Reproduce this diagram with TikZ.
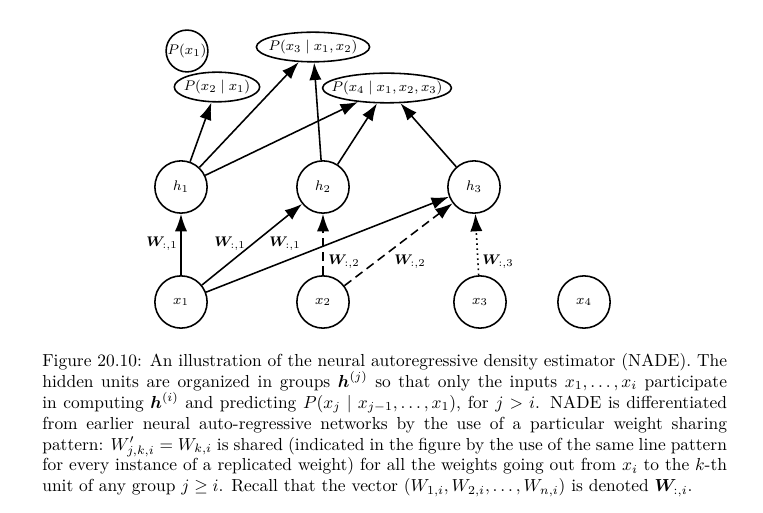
\documentclass[tikz,border=0pt]{standalone}
\usepackage{amsmath}
\usepackage{bm}
\usetikzlibrary{arrows.meta,shapes.geometric}

\begin{document}
\begin{tikzpicture}[
    x=0.574pt, y=-0.574pt,
    unit/.style={draw, circle, line width=0.9pt, minimum size=30pt, inner sep=0pt, font=\footnotesize},
    pcirc/.style={draw, circle, line width=0.9pt, minimum size=24pt, inner sep=0pt, font=\footnotesize},
    prob/.style={draw, ellipse, line width=0.9pt, minimum height=17pt, inner xsep=-10pt, inner ysep=-3pt, font=\footnotesize},
    wlabel/.style={font=\footnotesize, inner sep=0pt},
    arrow/.style={line width=0.9pt, -{Latex[length=10pt, width=7pt]}},
    shared/.style={dash pattern=on 5pt off 3pt}
]
    \useasboundingbox (0,0) rectangle (763,513);

    % conditionals
    \node[pcirc] (p1) at (187,51) {$P(x_1)$};
    \node[prob, minimum width=65pt] (p3) at (313,47) {$P(x_3 \mid x_1, x_2)$};
    \node[prob, minimum width=49pt] (p2) at (217,87) {$P(x_2 \mid x_1)$};
    \node[prob, minimum width=74pt] (p4) at (387,88) {$P(x_4 \mid x_1, x_2, x_3)$};

    % hidden groups
    \node[unit] (h1) at (181,187) {$h_1$};
    \node[unit] (h2) at (323,187) {$h_2$};
    \node[unit] (h3) at (474,187) {$h_3$};

    % inputs
    \node[unit] (x1) at (181,302) {$x_1$};
    \node[unit] (x2) at (323,302) {$x_2$};
    \node[unit] (x3) at (480,302) {$x_3$};
    \node[unit] (x4) at (584,302) {$x_4$};

    \draw[arrow] (x1) -- (h1);
    \draw[arrow] (x1) -- (h2);
    \draw[arrow] (x1) -- (h3);
    \draw[arrow, shared] (x2) -- (h2);
    \draw[arrow, shared] (x2) -- (h3);
    \draw[arrow, dotted] (x3) -- (h3);

    \draw[arrow] (h1) -- (p2);
    \draw[arrow] (h1) -- (p3);
    \draw[arrow] (h1) -- (p4);
    \draw[arrow] (h2) -- (p3);
    \draw[arrow] (h2) -- (p4);
    \draw[arrow] (h3) -- (p4);

    % shared weights
    \node[wlabel] (w11) at (162,244) {$\bm{W}_{:,1}$};
    \node[wlabel] (w12) at (230,244) {$\bm{W}_{:,1}$};
    \node[wlabel] (w13) at (285,244) {$\bm{W}_{:,1}$};
    \node[wlabel] (w21) at (344,262) {$\bm{W}_{:,2}$};
    \node[wlabel] (w22) at (410,262) {$\bm{W}_{:,2}$};
    \node[wlabel] (w31) at (498,262) {$\bm{W}_{:,3}$};

    \node[anchor=north west, text width=393pt, inner sep=0pt, align=justify] (caption) at (42,353)
    {Figure 20.10: An illustration of the neural autoregressive density estimator (NADE). The\linebreak
    hidden units are organized in groups $\bm{h}^{(j)}$ so that only the inputs $x_1, \dots, x_i$ participate\linebreak
    in computing $\bm{h}^{(i)}$ and predicting $P(x_j \mid x_{j-1}, \dots, x_1)$, for $j > i$. NADE is differentiated\linebreak
    from earlier neural auto-regressive networks by the use of a particular weight sharing\linebreak
    pattern: $W'_{j,k,i} = W_{k,i}$ is shared (indicated in the figure by the use of the same line pattern\linebreak
    for every instance of a replicated weight) for all the weights going out from $x_i$ to the $k$-th\linebreak
    unit of any group $j \geq i$. Recall that the vector $(W_{1,i}, W_{2,i}, \dots, W_{n,i})$ is denoted $\bm{W}_{:,i}$.};
\end{tikzpicture}
\end{document}
